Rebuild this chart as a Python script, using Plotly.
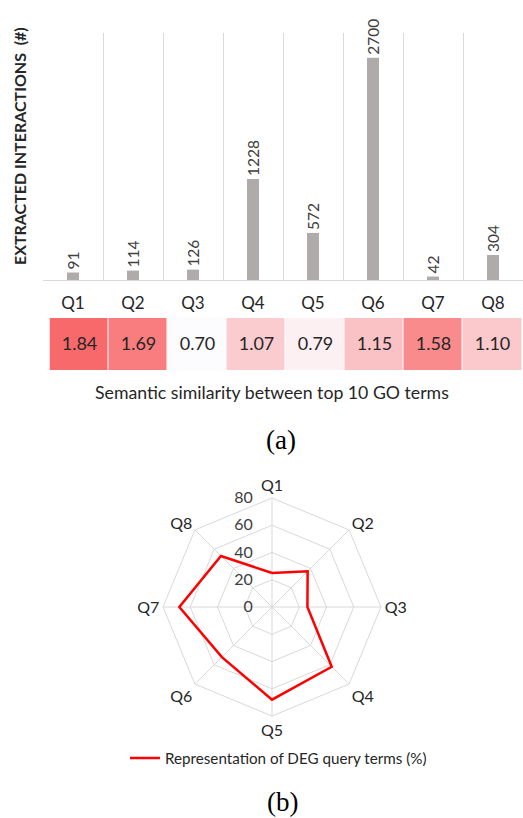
import plotly.graph_objects as go

queries = ["Q1", "Q2", "Q3", "Q4", "Q5", "Q6", "Q7", "Q8"]
interactions = [91, 114, 126, 1228, 572, 2700, 42, 304]
similarity = [1.84, 1.69, 0.70, 1.07, 0.79, 1.15, 1.58, 1.10]
deg_representation = [25, 37, 26, 62, 68, 52, 68, 53]
radial_ticks = [0, 20, 40, 60, 80]

W, H = 523, 818
FONT = "Lato"
NBSP = "\u00a0"

def px_x(x):
    return x / W

def px_y(y):
    return (H - y) / H

# pad radial tick labels on the right so they sit left of the vertical spoke
radial_text = [str(v) + NBSP * 4 for v in radial_ticks]

fig = go.Figure()

fig.add_trace(go.Bar(
    x=queries, y=interactions, width=0.2,
    marker=dict(color="#AFABAB", line=dict(width=0)),
    text=[str(v) for v in interactions], textposition="outside",
    textangle=-90, constraintext="none",
    textfont=dict(family=FONT, size=15.5, color="#404040"),
    cliponaxis=False, showlegend=False, xaxis="x", yaxis="y",
))

fig.add_trace(go.Heatmap(
    x=queries, y=["s"], z=[similarity],
    colorscale=[[0, "#FCFCFF"], [1, "#F8696B"]],
    zmin=min(similarity), zmax=max(similarity),
    texttemplate="%{z:.2f}", textfont=dict(family=FONT, size=18, color="#262626"),
    showscale=False, xgap=1, xaxis="x2", yaxis="y2", hoverinfo="skip",
))

fig.add_trace(go.Scatterpolar(
    r=deg_representation + deg_representation[:1],
    theta=queries + queries[:1],
    mode="lines", line=dict(color="#FF0000", width=2.5),
    name="Representation of DEG query terms (%)",
))

fig.update_layout(
    width=W, height=H, margin=dict(l=0, r=0, t=0, b=0),
    paper_bgcolor="white", plot_bgcolor="white",
    font=dict(family=FONT, color="#262626"),
    xaxis=dict(
        domain=[px_x(43), 1.0], type="category", categoryorder="array",
        categoryarray=queries, tickson="boundaries", showgrid=True,
        gridcolor="#D9D9D9", gridwidth=1, showline=True, linecolor="#D9D9D9",
        ticks="", ticklabelstandoff=8,
        tickfont=dict(family=FONT, size=17, color="#262626"),
    ),
    yaxis=dict(
        domain=[1 - 280 / H, 1 - 33 / H], range=[0, 3000], showgrid=False,
        showticklabels=False, zeroline=False, showline=False, ticks="",
    ),
    xaxis2=dict(
        domain=[px_x(49.5), px_x(522)], type="category", categoryorder="array",
        categoryarray=queries, showticklabels=False, showgrid=False,
        zeroline=False, showline=False, ticks="", anchor="y2",
    ),
    yaxis2=dict(
        domain=[1 - 370 / H, 1 - 318 / H], showticklabels=False, showgrid=False,
        zeroline=False, showline=False, ticks="", anchor="x2",
    ),
    polar=dict(
        domain=dict(x=[px_x(272 - 109), px_x(272 + 109)],
                    y=[px_y(607 + 109), px_y(607 - 109)]),
        gridshape="linear", bgcolor="white",
        radialaxis=dict(
            range=[0, 80], tickmode="array", tickvals=radial_ticks,
            ticktext=radial_text, angle=90, side="counterclockwise",
            tickangle=90, showline=False, gridcolor="#D9D9D9", ticks="",
            tickfont=dict(family=FONT, size=16, color="#404040"),
        ),
        angularaxis=dict(
            direction="clockwise", rotation=90, type="category",
            categoryarray=queries, gridcolor="#D9D9D9", linecolor="#D9D9D9",
            showline=True, ticks="",
            tickfont=dict(family=FONT, size=16, color="#262626"),
        ),
    ),
    showlegend=True,
    legend=dict(
        orientation="h", x=px_x(125), xanchor="left", y=px_y(758),
        yanchor="middle", font=dict(family=FONT, size=15.2, color="#262626"),
        bgcolor="rgba(0,0,0,0)",
    ),
    annotations=[
        dict(text="<b>EXTRACTED INTERACTIONS  (#)</b>", textangle=-90,
             x=px_x(19), y=px_y(146), xref="paper", yref="paper",
             xanchor="center", yanchor="middle",
             showarrow=False, font=dict(family=FONT, size=16, color="#262626")),
        dict(text="Semantic similarity between top 10 GO terms",
             x=px_x(272), y=px_y(392), xref="paper", yref="paper",
             xanchor="center", yanchor="middle",
             showarrow=False, font=dict(family=FONT, size=17.7, color="#262626")),
        dict(text="(a)", x=px_x(281), y=px_y(440), xref="paper", yref="paper",
             xanchor="center", yanchor="middle", showarrow=False,
             font=dict(family="Liberation Serif", size=27, color="black")),
        dict(text="(b)", x=px_x(282), y=px_y(802), xref="paper", yref="paper",
             xanchor="center", yanchor="middle", showarrow=False,
             font=dict(family="Liberation Serif", size=27, color="black")),
    ],
)

fig.write_html("out.html", config={"displayModeBar": False},
               post_script="document.body.style.margin='0px';")
